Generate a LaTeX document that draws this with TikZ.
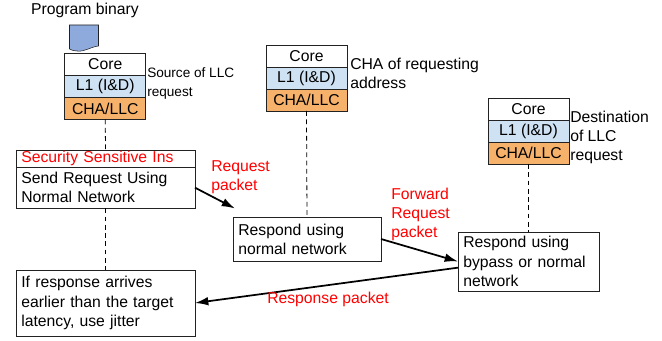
\documentclass[tikz,border=0pt]{standalone}
\usepackage{fontspec}
\setmainfont{Liberation Sans}
\usetikzlibrary{arrows.meta,positioning}
\definecolor{CacheBlue}{HTML}{CFE2F3}
\definecolor{LlcOrange}{HTML}{F6B26B}
\definecolor{BinaryBlue}{HTML}{8EA9DB}
\definecolor{BoxLine}{HTML}{222222}
\tikzset{
  corebox/.style={draw=BoxLine,semithick,minimum width=60.75pt,minimum height=16.5pt,inner sep=0pt,outer sep=0pt},
  flowbox/.style={draw=BoxLine,semithick,anchor=west,align=left,inner xsep=4pt,inner ysep=0pt,outer sep=0pt,text width=#1},
  sidenote/.style={anchor=west,align=left,inner sep=0pt},
  redlabel/.style={sidenote,text=red},
  lifeline/.style={black,semithick,dash pattern=on 3.6pt off 2.6pt},
  packet/.style={black,line width=1.3pt,-{Latex[length=10pt,width=6.5pt]}}
}
\begin{document}
\begin{tikzpicture}[x=0.75pt,y=-0.75pt,font=\fontsize{11.8}{14.4}\selectfont,node distance=0pt]
  \useasboundingbox (0,0) rectangle (662,341);
  % source core
  \node[anchor=center] (prog) at (85,10){Program binary};
  \draw[BoxLine,fill=BinaryBlue] (69.5,25) -- (98.5,25) -- (98.5,46) .. controls (90,47) and (85,52) .. (77,51) .. controls (74,51) and (71,50) .. (69.5,49) -- cycle;
  \node[corebox] (corea) at (105.25,64.5){Core};
  \node[corebox,fill=CacheBlue,below=of corea] (lia){L1 (I\&D)};
  \node[corebox,fill=LlcOrange,below=of lia] (chaa){CHA/LLC};
  \node[sidenote,font=\fontsize{10.2}{14.4}\selectfont] (srcnote) at (147,83.5){Source of LLC\\request};
  % CHA core
  \node[corebox] (coreb) at (306.5,56){Core};
  \node[corebox,fill=CacheBlue,below=of coreb] (lib){L1 (I\&D)};
  \node[corebox,fill=LlcOrange,below=of lib] (chab){CHA/LLC};
  \node[sidenote] (chanote) at (350,73){CHA of requesting\\address};
  % destination core
  \node[corebox] (corec) at (528.5,109){Core};
  \node[corebox,fill=CacheBlue,below=of corec] (lic){L1 (I\&D)};
  \node[corebox,fill=LlcOrange,below=of lic] (chac){CHA/LLC};
  \node[sidenote] (dstnote) at (570,137.5){Destination\\of LLC\\request};
  % flow boxes
  \node[flowbox=126.25pt,minimum height=12.75pt,text=red] (secbox) at (16,158.5){Security Sensitive Ins};
  \node[flowbox=126.25pt,minimum height=31pt,anchor=north,below=of secbox] (sendbox){Send Request Using\\Normal Network};
  \node[flowbox=126.25pt,minimum height=49.5pt] (ifbox) at (16,303){If response arrives\\earlier than the target\\latency, use jitter};
  \node[flowbox=103pt,minimum height=33pt] (respa) at (233,239){Respond using\\normal network};
  \node[flowbox=97.75pt,minimum height=44.25pt] (respb) at (458,261.5){Respond using\\bypass or normal\\network};
  % lifelines
  \draw[lifeline] (chaa.south) -- (secbox.north);
  \draw[lifeline] (sendbox.south) -- (ifbox.north);
  \draw[lifeline] (chab.south) -- (respa.north);
  \draw[lifeline] (chac.south) -- (respb.north);
  % packets
  \coordinate (reqend) at (235,208.5);
  \draw[packet] (sendbox.east) -- (reqend);
  \draw[packet] (respa.east) -- (respb.west);
  \draw[packet] (respb.185) -- (ifbox.east);
  \node[redlabel] (reqlab) at (211,177){Request\\packet};
  \node[redlabel] (fwdlab) at (391,214.5){Forward\\Request\\packet};
  \node[redlabel] (resplab) at (267,299){Response packet};
\end{tikzpicture}
\end{document}
